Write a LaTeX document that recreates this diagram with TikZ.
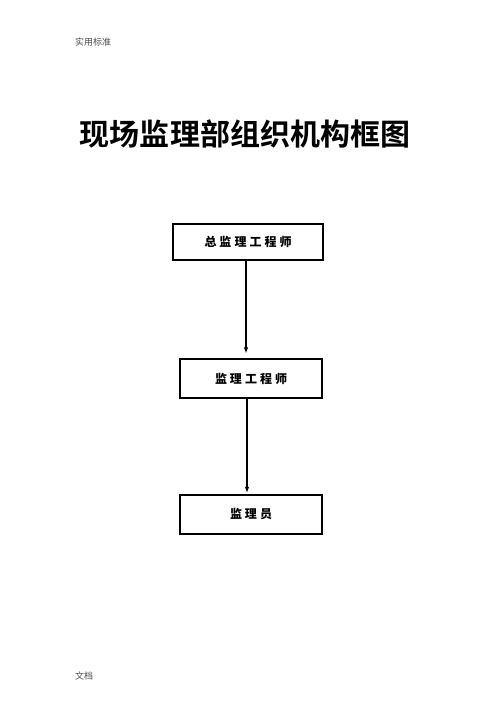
\documentclass[tikz,border=0pt]{standalone}
\usepackage{fontspec}
\newfontfamily\cjk{Noto Sans CJK SC}
\newfontfamily\cjkbold{Noto Sans CJK SC Bold}
\newfontfamily\cjkbox[LetterSpace=25]{Noto Sans CJK SC Black}
\usetikzlibrary{arrows.meta}
\usetikzlibrary{positioning}

\tikzset{
  rolebox/.style={draw, line width=1.3bp, minimum width=142bp, minimum height=39bp, inner sep=0pt,
    font=\cjkbox\fontsize{12bp}{14bp}\selectfont},
  flowarrow/.style={line width=1.1bp, -{Latex[length=6bp,width=4.5bp]}},
  pagenote/.style={font=\cjk\fontsize{9bp}{11bp}\selectfont, text=black!70, anchor=west, inner sep=0pt}
}

\begin{document}
\begin{tikzpicture}[x=1bp, y=-1bp]
        % Page frame
        \useasboundingbox (0,0) rectangle (496,702);

        % Header and footer notes
        \node[pagenote] (header) at (75,42) {实用标准};
        \node[pagenote] (footer) at (75,676) {文档};

        % Title
        \node[font=\cjkbold\fontsize{30bp}{34bp}\selectfont, inner sep=0pt] (title) at (245,134) {现场监理部组织机构框图};

        % Boxes
        \node[rolebox, minimum width=150bp, minimum height=36bp] (chief) at (248,242) {总监理工程师};
        \node[rolebox] (engineer) at (251,378.5) {监理工程师};
        \node[rolebox] (staff) at (251,514.5) {监理员};

        % Arrows
        \draw[flowarrow, shorten >=5bp] ([xshift=-2bp]chief.south) -- ([xshift=-2bp]chief.south |- engineer.north);
        \draw[flowarrow, shorten >=1.5bp] ([xshift=-4bp]engineer.south) -- ([xshift=-4bp]engineer.south |- staff.north);
\end{tikzpicture}
\end{document}
